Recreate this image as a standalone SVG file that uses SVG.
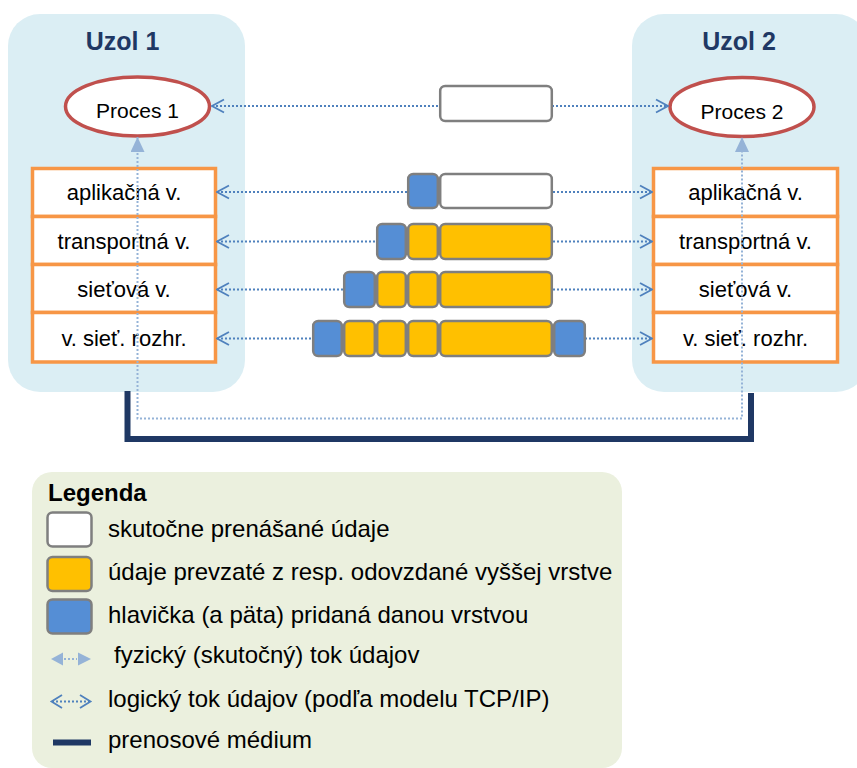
<svg xmlns="http://www.w3.org/2000/svg" width="857" height="768" viewBox="0 0 857 768">
  <style>
    text { font-family: "Liberation Sans", Arial, sans-serif; fill: #000; }
    .node-bg { fill: #DBEEF4; }
    .title { font-size: 25px; font-weight: bold; fill: #1F3864; text-anchor: middle; }
    .proc { fill: #fff; stroke: #C0504D; stroke-width: 3.5; }
    .proc-label { font-size: 21px; text-anchor: middle; }
    .layer { fill: #fff; stroke: #F79646; stroke-width: 3.5; }
    .layer-label { font-size: 22px; text-anchor: middle; }
    .logical { fill: none; stroke: #4F81BD; stroke-width: 2; stroke-dasharray: 2 2; }
    .physical { fill: none; stroke: #95B3D7; stroke-width: 2; stroke-dasharray: 2 2; }
    .medium { fill: none; stroke: #1F3864; stroke-width: 6; }
    .seg { stroke: #7F7F7F; stroke-width: 2.5; }
    .data { fill: #fff; }
    .payload { fill: #FFC000; }
    .header { fill: #558ED5; }
    .legend-bg { fill: #EBF0DE; }
    .legend-text { font-size: 24px; }
  </style>
  <defs>
    <marker id="open-arrow" viewBox="0 0 14 16" refX="13" refY="8" markerWidth="14" markerHeight="16" markerUnits="userSpaceOnUse" orient="auto-start-reverse">
      <path d="M1,1.5 L13,8 L1,14.5" fill="none" stroke="#4F81BD" stroke-width="1.8"/>
    </marker>
    <marker id="solid-arrow" viewBox="0 0 15 14" refX="15" refY="7" markerWidth="15" markerHeight="14" markerUnits="userSpaceOnUse" orient="auto-start-reverse">
      <path d="M0,0 L15,7 L0,14 Z" fill="#95B3D7"/>
    </marker>
  </defs>

  <!-- Host 1 -->
  <g id="uzol1">
    <rect class="node-bg" x="8" y="14" width="237" height="378" rx="32"/>
    <text class="title" x="122.5" y="50">Uzol 1</text>
    <g id="proces1">
      <ellipse class="proc" cx="137.5" cy="106.5" rx="72" ry="29.5"/>
      <text class="proc-label" x="137.5" y="118">Proces 1</text>
    </g>
    <g id="stack1">
      <rect class="layer" x="32.5" y="168.5" width="183" height="48"/>
      <text class="layer-label" x="124" y="200">aplikačná v.</text>
      <rect class="layer" x="32.5" y="216.5" width="183" height="48"/>
      <text class="layer-label" x="124" y="249">transportná v.</text>
      <rect class="layer" x="32.5" y="264.5" width="183" height="48"/>
      <text class="layer-label" x="124" y="297">sieťová v.</text>
      <rect class="layer" x="32.5" y="312.5" width="183" height="49.5"/>
      <text class="layer-label" x="124" y="346">v. sieť. rozhr.</text>
    </g>
  </g>

  <!-- Host 2 -->
  <g id="uzol2">
    <rect class="node-bg" x="632" y="14" width="236" height="378" rx="32"/>
    <text class="title" x="739" y="50">Uzol 2</text>
    <g id="proces2">
      <ellipse class="proc" cx="742" cy="107" rx="72" ry="29.5"/>
      <text class="proc-label" x="742" y="119">Proces 2</text>
    </g>
    <g id="stack2">
      <rect class="layer" x="653.5" y="168.5" width="184" height="48"/>
      <text class="layer-label" x="745.5" y="200">aplikačná v.</text>
      <rect class="layer" x="653.5" y="216.5" width="184" height="48"/>
      <text class="layer-label" x="745.5" y="249">transportná v.</text>
      <rect class="layer" x="653.5" y="264.5" width="184" height="48"/>
      <text class="layer-label" x="745.5" y="297">sieťová v.</text>
      <rect class="layer" x="653.5" y="312.5" width="184" height="49.5"/>
      <text class="layer-label" x="745.5" y="346">v. sieť. rozhr.</text>
    </g>
  </g>

  <!-- Links: transmission medium, logical flows, physical flow -->
  <g id="connectors">
    <path class="medium" d="M127.5,391 V439 H751 V393"/>
    <line class="logical" x1="212" y1="106" x2="668" y2="106" marker-start="url(#open-arrow)" marker-end="url(#open-arrow)"/>
    <line class="logical" x1="217" y1="192" x2="652" y2="192" marker-start="url(#open-arrow)" marker-end="url(#open-arrow)"/>
    <line class="logical" x1="217" y1="241.5" x2="652" y2="241.5" marker-start="url(#open-arrow)" marker-end="url(#open-arrow)"/>
    <line class="logical" x1="217" y1="289.5" x2="652" y2="289.5" marker-start="url(#open-arrow)" marker-end="url(#open-arrow)"/>
    <line class="logical" x1="217" y1="338.5" x2="652" y2="338.5" marker-start="url(#open-arrow)" marker-end="url(#open-arrow)"/>
    <path class="physical" d="M137.5,137 V418.5 H742 V137" marker-start="url(#solid-arrow)" marker-end="url(#solid-arrow)"/>
  </g>

  <!-- Encapsulated data units per layer -->
  <g id="packets">
    <rect class="seg data" x="440.2" y="86" width="111.6" height="35" rx="5"/>

    <rect class="seg header" x="408.2" y="174" width="29.6" height="34" rx="5"/>
    <rect class="seg data" x="440.2" y="174" width="111.6" height="34" rx="5"/>

    <rect class="seg header" x="377.2" y="224" width="28.6" height="35" rx="5"/>
    <rect class="seg payload" x="408.2" y="224" width="29.6" height="35" rx="5"/>
    <rect class="seg payload" x="440.2" y="224" width="111.6" height="35" rx="5"/>

    <rect class="seg header" x="344.2" y="272" width="30.6" height="35" rx="5"/>
    <rect class="seg payload" x="377.2" y="272" width="28.6" height="35" rx="5"/>
    <rect class="seg payload" x="408.2" y="272" width="29.6" height="35" rx="5"/>
    <rect class="seg payload" x="440.2" y="272" width="111.6" height="35" rx="5"/>

    <rect class="seg header" x="313.2" y="321" width="28.6" height="35" rx="5"/>
    <rect class="seg payload" x="344.2" y="321" width="30.6" height="35" rx="5"/>
    <rect class="seg payload" x="377.2" y="321" width="28.6" height="35" rx="5"/>
    <rect class="seg payload" x="408.2" y="321" width="29.6" height="35" rx="5"/>
    <rect class="seg payload" x="440.2" y="321" width="111.6" height="35" rx="5"/>
    <rect class="seg header" x="554.2" y="321" width="30.6" height="35" rx="5"/>
  </g>

  <!-- Legend -->
  <g id="legend">
    <rect class="legend-bg" x="32" y="472" width="590" height="296" rx="20"/>
    <text x="48" y="501" font-size="24" font-weight="bold">Legenda</text>

    <rect class="seg data" x="47.5" y="512.5" width="44" height="34" rx="5"/>
    <text class="legend-text" x="108" y="537">skutočne prenášané údaje</text>

    <rect class="seg payload" x="47.5" y="557" width="44" height="34" rx="5"/>
    <text class="legend-text" x="108" y="580">údaje prevzaté z resp. odovzdané vyššej vrstve</text>

    <rect class="seg header" x="47.5" y="599.5" width="44" height="34" rx="5"/>
    <text class="legend-text" x="108" y="623">hlavička (a päta) pridaná danou vrstvou</text>

    <polygon points="51,659 63,652.5 63,665.5" fill="#95B3D7"/>
    <polygon points="91,659 78,652.5 78,665.5" fill="#95B3D7"/>
    <line class="physical" x1="64" y1="659" x2="77" y2="659"/>
    <text class="legend-text" x="114" y="663">fyzický (skutočný) tok údajov</text>

    <line class="logical" x1="52" y1="701.5" x2="90" y2="701.5"/>
    <path d="M62,695 L51.5,701.5 L62,708 M80,695 L90.5,701.5 L80,708" fill="none" stroke="#4F81BD" stroke-width="1.8"/>
    <text class="legend-text" x="108" y="707">logický tok údajov (podľa modelu TCP/IP)</text>

    <line class="medium" x1="53" y1="742.5" x2="91" y2="742.5"/>
    <text class="legend-text" x="108" y="748">prenosové médium</text>
  </g>
</svg>
